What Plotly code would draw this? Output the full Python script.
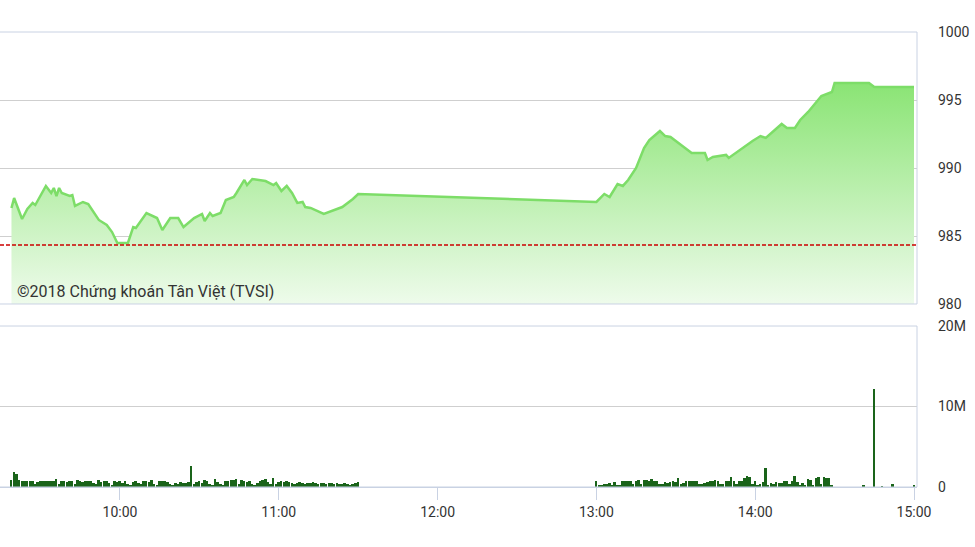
import pandas as pd
import plotly.graph_objects as go

DAY = "2018-01-01 "

# ---- price (index) line ----
price_times = [
    "09:19", "09:20", "09:23", "09:25", "09:27", "09:28", "09:32", "09:34", "09:35", "09:36",
    "09:37", "09:38", "09:41", "09:42", "09:43", "09:46", "09:48", "09:51", "09:52", "09:55",
    "09:57", "09:59", "10:03", "10:05", "10:06", "10:10", "10:14", "10:16", "10:19", "10:22",
    "10:24", "10:28", "10:31", "10:32", "10:34", "10:35", "10:38", "10:40", "10:43", "10:44",
    "10:47", "10:48", "10:50", "10:55", "10:58", "10:59", "11:01", "11:03", "11:05", "11:07",
    "11:09", "11:10", "11:12", "11:17", "11:20", "11:24", "11:28", "11:30",
    "13:00", "13:03", "13:05", "13:08", "13:10", "13:12", "13:15", "13:18", "13:20", "13:24",
    "13:26", "13:28", "13:33", "13:36", "13:41", "13:42", "13:44", "13:49", "13:50", "13:54",
    "13:59", "14:02", "14:04", "14:10", "14:12", "14:15", "14:17", "14:20", "14:23", "14:25",
    "14:29", "14:30", "14:43", "14:45", "15:00",
]
price_values = [
    987.06, 987.79, 986.25, 986.99, 987.43, 987.28, 988.68, 988.16, 988.53, 987.94,
    988.53, 988.16, 987.94, 988.01, 987.21, 987.50, 987.35, 986.54, 986.18, 985.81,
    985.29, 984.49, 984.49, 985.66, 985.59, 986.69, 986.32, 985.44, 986.32, 986.32,
    985.66, 986.32, 986.62, 986.10, 986.69, 986.47, 986.69, 987.65, 987.87, 988.16,
    989.12, 988.75, 989.19, 989.04, 988.75, 988.90, 988.31, 988.68, 988.16, 987.43,
    987.50, 987.13, 987.06, 986.62, 986.84, 987.13, 987.72, 988.09,
    987.50, 988.09, 987.87, 988.82, 988.68, 989.12, 990.00, 991.47, 992.06, 992.72,
    992.35, 992.28, 991.54, 991.10, 991.10, 990.59, 990.81, 990.96, 990.74, 991.32,
    991.99, 992.35, 992.21, 993.24, 992.94, 992.94, 993.53, 994.12, 994.85, 995.29,
    995.59, 996.25, 996.25, 995.96, 995.96,
]
reference_value = 984.34

# ---- volume (millions), one bar per minute ----
morning_start = "09:19"
morning_volume = [
    0.9, 1.8, 1.6, 0.9, 0.8, 0.8, 0.8, 0.7, 0.8, 0.4,
    0.6, 0.7, 0.7, 0.8, 0.8, 0.7, 0.8, 1.0, 0.4, 0.8,
    0.7, 0.6, 0.8, 0.7, 0.4, 0.9, 0.7, 0.6, 0.8, 0.7,
    0.8, 0.5, 0.4, 0.9, 0.6, 0.7, 0.8, 0.5, 0.3, 0.7,
    0.6, 0.7, 0.5, 0.7, 0.4, 0.3, 0.6, 0.7, 0.5, 0.4,
    0.7, 0.8, 0.6, 0.9, 0.4, 0.3, 0.8, 0.7, 0.8, 0.6,
    0.4, 0.3, 0.5, 0.4, 0.6, 0.5, 0.5, 0.6, 2.6, 0.4,
    0.6, 0.7, 0.5, 0.9, 0.7, 0.4, 0.3, 1.0, 0.6, 0.4,
    0.3, 0.8, 0.7, 0.9, 0.9, 1.0, 0.4, 0.9, 0.7, 0.6,
    0.7, 0.4, 0.3, 0.5, 0.7, 0.9, 1.0, 0.6, 0.4, 1.1,
    0.4, 0.6, 0.7, 0.6, 0.8, 0.6, 0.5, 0.4, 0.5, 0.6,
    0.5, 0.4, 0.5, 0.5, 0.6, 0.5, 0.4, 0.5, 0.5, 0.4,
    0.5, 0.5, 0.4, 0.5, 0.4, 0.4, 0.5, 0.4, 0.3, 0.4,
    0.5, 0.6,
]
afternoon_start = "13:00"
afternoon_volume = [
    0.7, 0.2, 0.3, 0.4, 0.4, 0.5, 0.3, 0.6, 0.3, 0.3,
    0.8, 0.7, 0.7, 0.8, 0.4, 0.8, 0.9, 0.4, 0.9, 0.9,
    0.8, 1.0, 0.8, 0.7, 0.4, 0.4, 0.6, 0.5, 0.6, 0.7,
    0.6, 1.1, 0.4, 0.5, 0.8, 0.8, 0.7, 0.8, 0.8, 0.4,
    0.4, 0.5, 0.6, 0.7, 0.8, 0.9, 0.8, 0.4, 0.4, 0.8,
    0.8, 1.2, 0.8, 0.4, 0.7, 0.8, 1.1, 1.4, 1.2, 0.4,
    0.8, 0.3, 0.4, 0.6, 2.4, 0.3, 0.5, 0.4, 0.6, 0.5,
    0.5, 0.8, 0.8, 0.4, 0.7, 1.4, 0.6, 0.3, 0.5, 0.3,
    1.0, 0.9, 0.3, 1.1, 1.3, 0.4, 1.2, 1.1, 1.1, 0.3,
]
late_times = ["14:41", "14:45", "14:48", "14:52", "15:00"]
late_volume = [0.3, 12.2, 0.1, 0.4, 0.15]

y_ticks_price = [980, 985, 990, 995, 1000]
y_ticks_volume = [0, 10e6, 20e6]
y_ticklabels_volume = ["0", "10M", "20M"]
x_ticks = ["10:00", "11:00", "12:00", "13:00", "14:00", "15:00"]
watermark = "©2018 Chứng khoán Tân Việt (TVSI)"

# ---- build ----
px = pd.to_datetime([DAY + t for t in price_times])
vol_x = list(pd.date_range(DAY + morning_start, periods=len(morning_volume), freq="min")) + \
        list(pd.date_range(DAY + afternoon_start, periods=len(afternoon_volume), freq="min")) + \
        list(pd.to_datetime([DAY + t for t in late_times]))
vol_y = [v * 1e6 for v in morning_volume + afternoon_volume + late_volume]

FONT = "Roboto, Arial, sans-serif"
GRID = "#cfcfcf"
BORDER = "#c9d2e3"

fig = go.Figure()
fig.add_trace(go.Scatter(
    x=px, y=price_values, mode="lines",
    line=dict(color="#7ddd68", width=2.5),
    fill="tozeroy",
    fillgradient=dict(type="vertical", start=980, stop=996.3,
                      colorscale=[[0, "rgba(238,251,235,1)"], [1, "rgba(138,228,116,1)"]]),
    xaxis="x2", yaxis="y2", hoverinfo="skip", showlegend=False,
))
fig.add_trace(go.Bar(
    x=vol_x, y=vol_y, marker=dict(color="#1a641a", line=dict(width=0)),
    width=45000, xaxis="x", yaxis="y", showlegend=False, hoverinfo="skip",
))

x_range = [DAY + "09:14:40", DAY + "15:01:08"]
tickvals_x = [DAY + t for t in x_ticks]


def frame(xref, yref):
    # top, bottom and right edges of a panel (no left edge)
    ln = dict(color=BORDER, width=1)
    return [
        dict(type="line", xref=xref, yref=yref, x0=0, x1=1, y0=1, y1=1, line=ln, layer="above"),
        dict(type="line", xref=xref, yref=yref, x0=0, x1=1, y0=0, y1=0, line=ln, layer="above"),
        dict(type="line", xref=xref, yref=yref, x0=1, x1=1, y0=0, y1=1, line=ln, layer="above"),
    ]


fig.update_layout(
    width=975, height=547,
    margin=dict(l=0, r=58, t=32, b=60),
    paper_bgcolor="white", plot_bgcolor="white",
    font=dict(family=FONT, size=14, color="#333333"),
    bargap=0,
    xaxis=dict(domain=[0, 1], anchor="y", range=x_range, type="date",
               tickvals=tickvals_x, ticktext=x_ticks,
               showgrid=False, zeroline=False,
               showline=True, linecolor=BORDER, linewidth=1,
               ticks="outside", ticklen=12, tickcolor=BORDER,
               tickfont=dict(size=14, color="#333333", family=FONT)),
    xaxis2=dict(domain=[0, 1], anchor="y2", range=x_range, type="date", matches="x",
                showticklabels=False, showgrid=False, zeroline=False, showline=False, ticks=""),
    yaxis=dict(domain=[0, 0.3538], anchor="x", range=[0, 20e6], side="right",
               tickvals=y_ticks_volume, ticktext=y_ticklabels_volume,
               showgrid=True, gridcolor=GRID, gridwidth=1, zeroline=False,
               showline=False, ticks="", ticklabelstandoff=20,
               tickfont=dict(size=14, color="#333333", family=FONT)),
    yaxis2=dict(domain=[0.4022, 1], anchor="x2", range=[980, 1000], side="right",
                tickvals=y_ticks_price,
                showgrid=True, gridcolor=GRID, gridwidth=1, zeroline=False,
                showline=False, ticks="", ticklabelstandoff=20,
                tickfont=dict(size=14, color="#333333", family=FONT)),
    shapes=[
        dict(type="line", xref="x2 domain", yref="y2", x0=0, x1=1,
             y0=reference_value, y1=reference_value,
             line=dict(color="#cc0000", width=1.5, dash="4px,2px")),
    ] + frame("x2 domain", "y2 domain") + frame("x domain", "y domain"),
    annotations=[
        dict(text=watermark, xref="paper", yref="paper", x=0.0164, y=0.4286,
             xanchor="left", yanchor="middle", showarrow=False,
             font=dict(size=16, color="#333333", family=FONT)),
    ],
)

fig.write_html(
    "out.html",
    config={"displayModeBar": False},
    post_script="document.body.style.margin='0';document.body.style.overflow='hidden';",
)
